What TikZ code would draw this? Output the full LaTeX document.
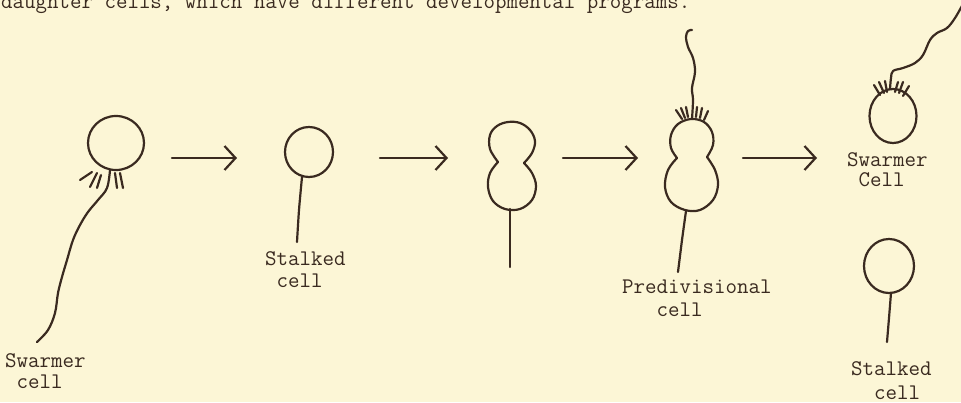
\documentclass[tikz,border=0pt]{standalone}
\usepackage{fontspec}
\usetikzlibrary{arrows.meta}

\definecolor{paper}{RGB}{252,246,214}
\definecolor{inkbrown}{RGB}{58,42,32}

\begin{document}
\begin{tikzpicture}[x=1pt, y=-1pt,
    ink/.style={draw=inkbrown, line width=2.2pt, line cap=round, line join=round},
    pointer/.style={ink, -{Straight Barb[length=11pt, width=24pt]}},
    celltext/.style={text=inkbrown, font=\ttfamily\fontsize{22.3}{22}\selectfont,
        align=left, inner sep=0pt, anchor=base west}]

    % Paper and page size
    \fill[paper] (0,0) rectangle (961,402);
    \useasboundingbox (0,0) rectangle (961,402);

    % Last line of the running text, cut by the page edge
    \node[celltext] (caption) at (1,8) {daughter cells, which have different developmental programs.};

    % Draw the swarmer cell: body, pili and long flagellum
    \draw[ink] (116,143) ellipse [x radius=28, y radius=27];
    \draw[ink] (92,172) -- (80,180);
    \draw[ink] (97,173) -- (90,187);
    \draw[ink] (101,175) -- (97,188);
    \draw[ink] (115,173) -- (117,188);
    \draw[ink] (120,173) -- (123,188);
    \draw[ink] plot[smooth, tension=0.6] coordinates {(110,170) (107,188) (98,200) (88,212)
        (80,225) (73,240) (67,260) (62,277) (58,293) (55,313) (48,330) (37,342)};
    % (the base anchor sits on the last line)
    \node[celltext] (swarmer) at (5,388) {Swarmer\\[-1pt]\hphantom{x}cell};

    % Draw the stalked cell
    \draw[ink] (309,152) ellipse [x radius=24, y radius=25];
    \draw[ink] plot[smooth] coordinates {(302,177) (299,210) (297,242)};
    \node[celltext] (stalked) at (265,287) {Stalked\\\hphantom{x}cell};

    % Draw the dividing cell, two lobes on a stalk
    \draw[ink] plot[smooth, tension=0.6] coordinates {(498,162) (490,149) (490,135) (497,126)
        (508,122) (520,123) (530,130) (535,141) (532,153) (524,163)};
    \draw[ink] plot[smooth, tension=0.6] coordinates {(524,163) (532,173) (536,186) (532,200)
        (520,209) (505,209) (493,201) (488,187) (490,173) (498,162)};
    \draw[ink] (510,209) -- (510,267);

    % Draw the predivisional cell with pili and flagellum on top
    \draw[ink] plot[smooth, tension=0.6] coordinates {(677,158) (671,148) (671,135) (678,124)
        (691,119) (704,122) (712,132) (713,145) (707,157)};
    \draw[ink] plot[smooth, tension=0.6] coordinates {(707,157) (715,170) (718,185) (713,200)
        (700,210) (685,210) (671,202) (665,187) (668,170) (677,158)};
    \draw[ink] (676,110) -- (682,119);
    \draw[ink] (681,108) -- (685,118);
    \draw[ink] (686,107) -- (688,117);
    \draw[ink] (697,107) -- (696,117);
    \draw[ink] (702,108) -- (700,118);
    \draw[ink] (708,111) -- (704,120);
    \draw[ink] plot[smooth, tension=0.6] coordinates {(692,119) (693,100) (692,88) (695,72)
        (693,58) (688,47) (686,37) (688,31) (692,30)};
    \draw[ink] plot[smooth] coordinates {(686,211) (682,240) (678,272)};
    \node[celltext] (predivisional) at (622,316) {Predivisional\\[1pt]\hphantom{xxx}cell};

    % Draw the new swarmer cell
    \draw[ink] (893,116) ellipse [x radius=23.5, y radius=27];
    \draw[ink] (874,85) -- (880,95);
    \draw[ink] (879,82) -- (884,93);
    \draw[ink] (885,81) -- (887,92);
    \draw[ink] (898,82) -- (895,92);
    \draw[ink] (903,82) -- (899,93);
    \draw[ink] (909,86) -- (903,96);
    \draw[ink] plot[smooth, tension=0.6] coordinates {(890,89) (891,78) (893,71) (903,68)
        (915,63) (923,55) (930,40) (937,33) (947,28) (955,18) (963,4)};
    \node[celltext] (swarmer2) at (847,186) {Swarmer\\[-2pt]\hphantom{x}Cell};

    % Draw the new stalked cell
    \draw[ink] (889,266) ellipse [x radius=25, y radius=27];
    \draw[ink] plot[smooth] coordinates {(891,293) (889,318) (887,342)};
    \node[celltext] (stalked2) at (851,399) {Stalked\\[2pt]\hphantom{xx}cell};

    % Arrows between the stages
    \coordinate (from1) at (172,158);  \coordinate (to1) at (237,158);
    \coordinate (from2) at (380,158);  \coordinate (to2) at (448,158);
    \coordinate (from3) at (563,158);  \coordinate (to3) at (638,158);
    \coordinate (from4) at (743,158);  \coordinate (to4) at (817,158);
    \draw[pointer] (from1) -- (to1);
    \draw[pointer] (from2) -- (to2);
    \draw[pointer] (from3) -- (to3);
    \draw[pointer] (from4) -- (to4);
\end{tikzpicture}
\end{document}
